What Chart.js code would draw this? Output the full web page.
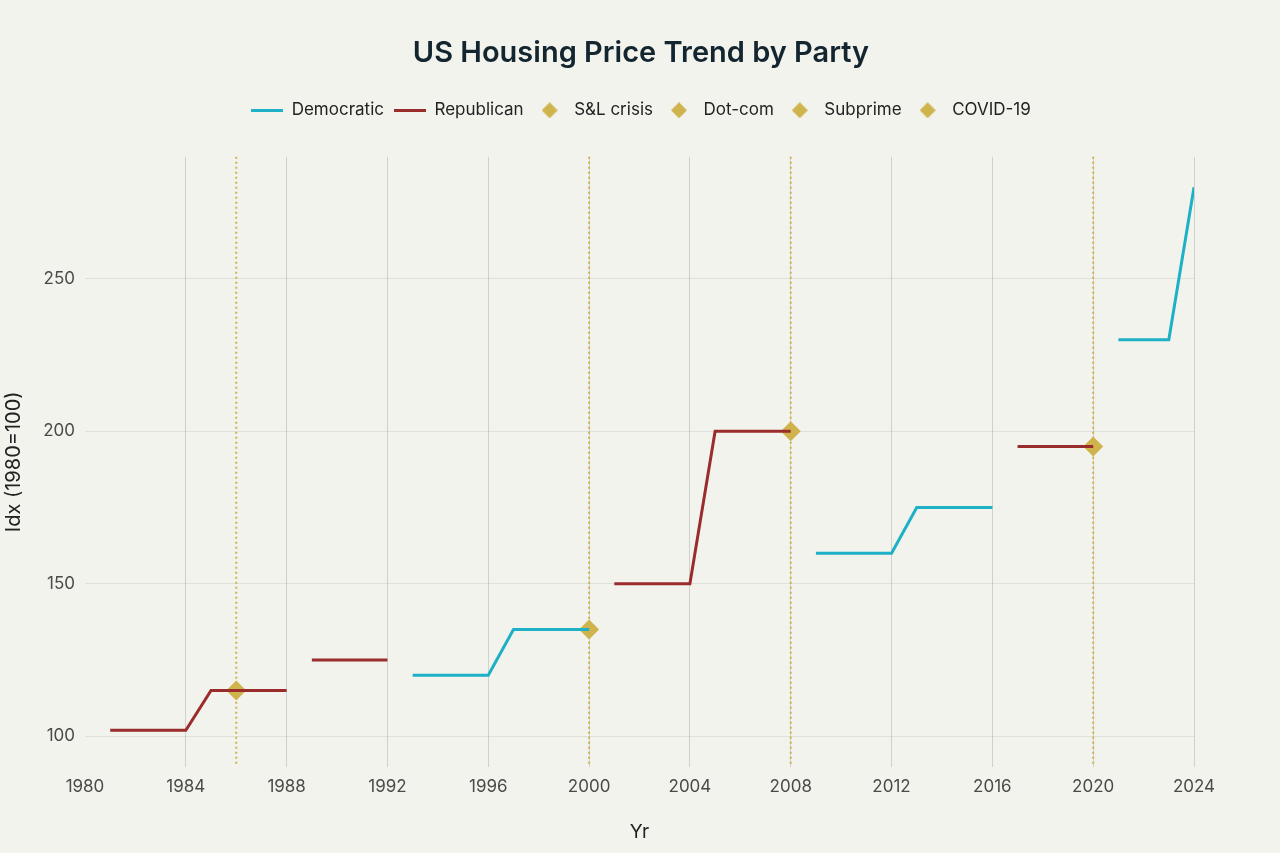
<!DOCTYPE html>
<html>
<head>
<meta charset="utf-8">
<script src="https://cdn.jsdelivr.net/npm/chart.js@4/dist/chart.umd.min.js"></script>
<style>
  html, body { margin: 0; padding: 0; background: #f3f3ee; }
  #wrap { width: 1280px; height: 853px; }
</style>
</head>
<body>
<div id="wrap"><canvas id="chart" width="1280" height="853"></canvas></div>
<script>
// term segments, null = break between terms
const demYears = [1993, 1996, 1997, 2000, null, 2009, 2012, 2013, 2016, null, 2021, 2023, 2024];
const demIndex = [120, 120, 135, 135, null, 160, 160, 175, 175, null, 230, 230, 280];
const repYears = [1981, 1984, 1985, 1988, null, 1989, 1992, null, 2001, 2004, 2005, 2008, null, 2017, 2020];
const repIndex = [102, 102, 115, 115, null, 125, 125, null, 150, 150, 200, 200, null, 195, 195];

const eventNames = ["S&L crisis", "Dot-com", "Subprime", "COVID-19"];
const eventYears = [1986, 2000, 2008, 2020];
const eventIndex = [115, 135, 200, 195];

const yTickValues = [100, 150, 200, 250];

const DEM = "#1eb0c6";
const REP = "#9a2d2b";
const GOLD = "#cfb34c";
const FONT = "Inter, 'Noto Sans', sans-serif";

function pts(xs, ys) {
  return xs.map((x, i) => ({ x: x ?? xs[i - 1], y: ys[i] }));
}

function lineIcon(color) {
  const c = document.createElement("canvas");
  c.width = 32; c.height = 3;
  const g = c.getContext("2d");
  g.fillStyle = color;
  g.fillRect(0, 0, 32, 3);
  return c;
}
function diamondIcon(color) {
  const c = document.createElement("canvas");
  c.width = 16; c.height = 16;
  const g = c.getContext("2d");
  g.fillStyle = color;
  g.beginPath();
  g.moveTo(8, 0); g.lineTo(16, 8); g.lineTo(8, 16); g.lineTo(0, 8);
  g.closePath(); g.fill();
  return c;
}

// dotted vertical line at each event year
const eventLines = {
  id: "eventLines",
  beforeDatasetsDraw(chart) {
    const { ctx, chartArea: a, scales: { x } } = chart;
    ctx.save();
    ctx.strokeStyle = GOLD;
    ctx.lineWidth = 2;
    ctx.setLineDash([2, 3]);
    for (const yr of eventYears) {
      const px = x.getPixelForValue(yr);
      ctx.beginPath();
      ctx.moveTo(px, a.top);
      ctx.lineTo(px, a.bottom);
      ctx.stroke();
    }
    ctx.restore();
  },
};

// extra room under the legend
const legendGap = {
  id: "legendGap",
  beforeInit(chart) {
    const fit = chart.legend.fit;
    chart.legend.fit = function () {
      fit.bind(chart.legend)();
      this.height += 28;
    };
  },
};

const datasets = [
  { label: "Democratic", data: pts(demYears, demIndex), borderColor: DEM, backgroundColor: DEM,
    borderWidth: 3, pointRadius: 0, spanGaps: false, legendIcon: lineIcon(DEM) },
  { label: "Republican", data: pts(repYears, repIndex), borderColor: REP, backgroundColor: REP,
    borderWidth: 3, pointRadius: 0, spanGaps: false, legendIcon: lineIcon(REP) },
  ...eventNames.map((name, i) => ({
    label: name,
    data: [{ x: eventYears[i], y: eventIndex[i] }],
    showLine: false,
    pointStyle: "rectRot",
    pointRadius: 10,
    pointHoverRadius: 10,
    backgroundColor: GOLD,
    borderColor: GOLD,
    borderWidth: 0,
    legendIcon: diamondIcon(GOLD),
  })),
];

new Chart(document.getElementById("chart"), {
  type: "line",
  data: { datasets },
  plugins: [eventLines, legendGap],
  options: {
    responsive: false,
    animation: false,
    layout: { padding: { top: 26, right: 0, bottom: 5, left: 2 } },
    plugins: {
      title: {
        display: true,
        text: "US Housing Price Trend by Party",
        color: "#13252f",
        font: { family: FONT, size: 29, weight: "600" },
        padding: { top: 10, bottom: 21 },
      },
      legend: {
        labels: {
          usePointStyle: true,
          pointStyleWidth: 32,
          color: "#222",
          font: { family: FONT, size: 17 },
          padding: 10,
          generateLabels(chart) {
            return chart.data.datasets.map((d, i) => ({
              text: d.label,
              pointStyle: d.legendIcon,
              fillStyle: d.borderColor,
              strokeStyle: d.borderColor,
              lineWidth: 0,
              fontColor: "#222",
              datasetIndex: i,
              hidden: false,
            }));
          },
        },
      },
      tooltip: { enabled: false },
    },
    scales: {
      x: {
        type: "linear",
        min: 1980,
        max: 2024,
        ticks: {
          stepSize: 4,
          color: "#4a4a4a",
          font: { family: FONT, size: 17 },
          callback: (v) => String(v),
          padding: 10,
        },
        grid: {
          color: (c) => (c.tick && c.tick.value === 1980 ? "rgba(0,0,0,0)" : "rgba(0,0,0,0.14)"),
          drawTicks: false,
        },
        border: { display: false },
        title: { display: true, text: "Yr", color: "#222", font: { family: FONT, size: 19 }, padding: { top: 14 } },
      },
      y: {
        min: 90,
        max: 290,
        afterBuildTicks(scale) {
          scale.ticks = yTickValues.map((v) => ({ value: v }));
        },
        afterFit(scale) {
          scale.width = 83;
        },
        ticks: {
          color: "#4a4a4a",
          font: { family: FONT, size: 17 },
          padding: 10,
        },
        grid: { color: "rgba(0,0,0,0.08)", drawTicks: false },
        border: { display: false },
        title: { display: true, text: "Idx (1980=100)", color: "#222", font: { family: FONT, size: 20 }, padding: { top: 0, bottom: 0 } },
      },
      yRight: {
        position: "right",
        display: true,
        grid: { display: false },
        ticks: { display: false },
        border: { display: false },
        afterFit(scale) {
          scale.width = 86;
        },
      },
    },
  },
});
</script>
</body>
</html>
